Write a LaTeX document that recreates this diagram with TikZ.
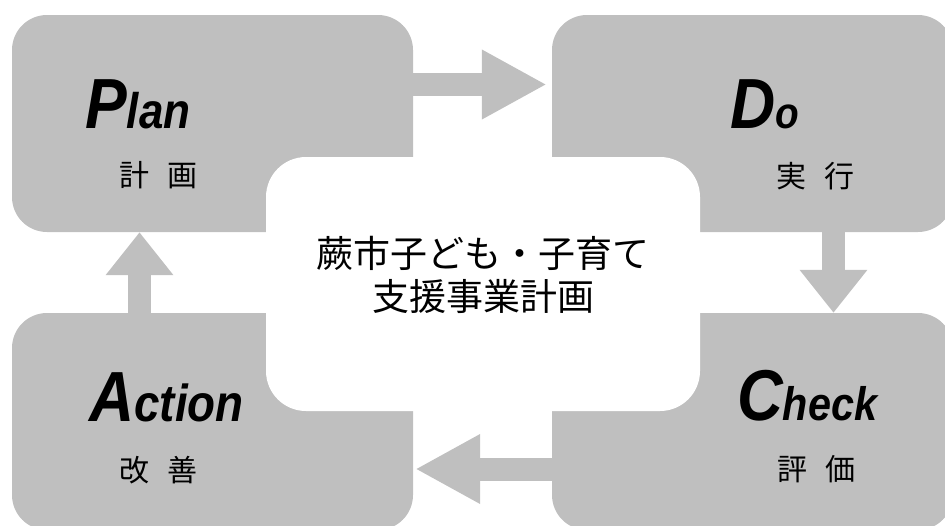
\documentclass[tikz,border=0pt]{standalone}
\usepackage{fontspec}
\setmainfont{Noto Sans CJK JP}
\newfontfamily\pdcafont{Liberation Sans}[FakeStretch=0.88]
\usetikzlibrary{arrows.meta}
\definecolor{pdcagray}{RGB}{191,191,191}

\begin{document}
\begin{tikzpicture}[
  x=1pt, y=-1pt,
  phase/.style={rectangle, fill=pdcagray, rounded corners=35pt, minimum width=401pt, minimum height=217pt, inner sep=0pt},
  core/.style={rectangle, fill=white, rounded corners=40pt, minimum width=434pt, minimum height=254pt, inner sep=0pt},
  pdcahead/.style={anchor=base west, inner sep=0pt, font=\pdcafont\bfseries\itshape},
  jp/.style={anchor=west, inner sep=0pt, font=\fontsize{30}{30}\selectfont},
  arr/.style={draw=pdcagray, line width=23pt, -{Triangle[length=#1, width=65pt]}}
]
  \useasboundingbox (0,0) rectangle (945,525);
  \node[phase] (plan) at (212.5,123.5) {};
  \node[phase] (do) at (752.5,123.5) {};
  \node[phase] (action) at (212.5,421.5) {};
  \node[phase] (check) at (752.5,421.5) {};
  \draw[arr=65pt, shorten >=5pt] ([yshift=39pt]plan.east) -- ([yshift=39pt]do.west);
  \draw[arr=43pt] ([xshift=81pt]do.south) -- ([xshift=81pt]check.north);
  \draw[arr=65pt, shorten >=2pt] ([yshift=-47.5pt]check.west) -- ([yshift=-47.5pt]action.east);
  \draw[arr=43pt] ([xshift=-73pt]action.north) -- ([xshift=-73pt]plan.south);
  \node[core] (core) at (483,284) {};
  \node[align=center, font=\fontsize{37}{43}\selectfont] (title) at ([yshift=9pt]core.center) {蕨市子ども・子育て\\支援事業計画};
  \node[pdcahead] (planword) at (85,128) {{\fontsize{71}{71}\selectfont P}{\fontsize{50}{50}\selectfont lan}};
  \node[pdcahead] (doword) at (730,128) {{\fontsize{71}{71}\selectfont D}{\fontsize{44}{44}\selectfont o}};
  \node[pdcahead] (checkword) at (737,420) {{\fontsize{72}{72}\selectfont C}{\fontsize{47}{47}\selectfont heck}};
  \node[pdcahead] (actionword) at (89,421) {{\fontsize{71}{71}\selectfont A}{\fontsize{52}{52}\selectfont ction}};
  \node[jp] (planjp) at (119,175.5) {計\hspace{0.6em}画};
  \node[jp] (dojp) at (776,176.5) {実\hspace{0.6em}行};
  \node[jp] (checkjp) at (777,469) {評\hspace{0.6em}価};
  \node[jp] (actionjp) at (119,470) {改\hspace{0.6em}善};
\end{tikzpicture}
\end{document}
